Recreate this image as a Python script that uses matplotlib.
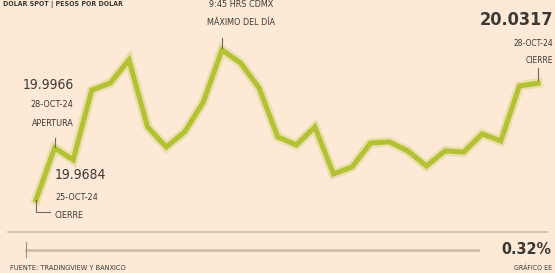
import os

import matplotlib.pyplot as plt
from matplotlib import font_manager as fm
from matplotlib.lines import Line2D
from matplotlib.transforms import IdentityTransform

# Intraday peso-dollar quotes
values = [19.9684, 19.9966, 19.9901, 20.0280, 20.0318, 20.0443, 20.0080,
          19.9971, 20.0053, 20.0215, 20.0497, 20.0427, 20.0291, 20.0026,
          19.9982, 20.0080, 19.9825, 19.9863, 19.9993, 19.9999, 19.9950,
          19.9868, 19.9950, 19.9944, 20.0042, 20.0004, 20.0302, 20.0317]
x = list(range(len(values)))

open_label = ['19.9966', '28-OCT-24', 'APERTURA']
prev_label = ['19.9684', '25-OCT-24', 'CIERRE']
last_label = ['20.0317', '28-OCT-24', 'CIERRE']
peak_label = ['9:45 HRS CDMX', 'MÁXIMO DEL DÍA']
change_label = '0.32%'
source = 'FUENTE: TRADINGVIEW Y BANXICO'
credit = 'GRÁFICO EE'
header = 'DÓLAR SPOT | PESOS POR DÓLAR'

BG = '#FDE9D5'
LINE = '#B3C232'
TXT = '#3B3936'
GREY = '#CDBEA8'
W, H = 555, 273


def pick_font(bold):
    # the reference uses a condensed face; take a narrow one if there is one
    files = [f.fname for f in fm.fontManager.ttflist]
    if bold:
        wanted = ['LiberationSansNarrow-Bold.ttf', 'DejaVuSansCondensed-Bold.ttf']
    else:
        wanted = ['LiberationSansNarrow-Regular.ttf', 'DejaVuSansCondensed.ttf']
    for w in wanted:
        for f in files:
            if os.path.basename(f) == w:
                return fm.FontProperties(fname=f)
    return fm.FontProperties(family='DejaVu Sans',
                             weight='bold' if bold else 'normal')


FP = pick_font(False)
FPB = pick_font(True)

fig = plt.figure(figsize=(W / 100, H / 100), dpi=100, facecolor=BG)
ax = fig.add_axes([0, 0, 1, 1])
ax.set_facecolor(BG)
ax.set_xlim(-1.936, 27.914)
ax.set_ylim(19.9288, 20.0768)
ax.axis('off')

# soft glow + main line
ax.plot(x, values, color=LINE, lw=7, alpha=0.25, solid_joinstyle='miter')
ax.plot(x, values, color=LINE, lw=3.6, solid_joinstyle='miter')


def pt(i):
    # pixel position of a data point (origin bottom-left)
    return ax.transData.transform((x[i], values[i]))


def seg(xs, ys):
    fig.add_artist(Line2D(xs, ys, transform=IdentityTransform(),
                          color='#6E6A64', lw=0.8))


def label(px, py, s, size, ha, bold=False):
    fp = (FPB if bold else FP).copy()
    fp.set_size(size)
    fig.text(px / W, py / H, s, fontproperties=fp, ha=ha, va='center',
             color=TXT)


# previous close (start point)
x0, y0 = pt(0)
seg([x0, x0, x0 + 14], [y0, y0 - 12, y0 - 12])
label(x0 + 19, y0 + 25, prev_label[0], 10, 'left')
label(x0 + 19, y0 + 2, prev_label[1], 6.5, 'left')
label(x0 + 19, y0 - 16, prev_label[2], 6.5, 'left')

# opening
x1, y1 = pt(1)
seg([x1, x1], [y1 + 1, y1 + 10])
label(x1 + 19, y1 + 63, open_label[0], 10, 'right')
label(x1 + 19, y1 + 43, open_label[1], 6.5, 'right')
label(x1 + 19, y1 + 24, open_label[2], 6.5, 'right')

# daily max
pk = values.index(max(values))
xp, yp = pt(pk)
seg([xp, xp], [yp + 2, yp + 12])
label(xp + 19, yp + 45, peak_label[0], 6.5, 'center')
label(xp + 19, yp + 27, peak_label[1], 6.5, 'center')

# last close
xl, yl = pt(len(values) - 1)
seg([xl, xl], [yl + 3, yl + 15])
label(xl + 15, yl + 63, last_label[0], 13, 'right', bold=True)
label(xl + 15, yl + 40, last_label[1], 6, 'right')
label(xl + 15, yl + 23, last_label[2], 6, 'right')

# top header, tucked against the upper edge
label(3, H - 4, header, 5, 'left', bold=True)

# bottom separator and change bar
fig.add_artist(Line2D([8 / W, 547 / W], [1 - 232 / H] * 2,
                      color=GREY, lw=1.2))
fig.add_artist(Line2D([26 / W, 478 / W], [1 - 250 / H] * 2,
                      color=GREY, lw=2))
fig.add_artist(Line2D([26 / W, 26 / W], [1 - 242 / H, 1 - 257 / H],
                      color='#9C9284', lw=0.8))
label(551, H - 250, change_label, 11.5, 'right', bold=True)
label(10, H - 268, source, 5.3, 'left')
label(552, H - 268, credit, 5, 'right')

fig.savefig('out.png', dpi=100, facecolor=BG)
